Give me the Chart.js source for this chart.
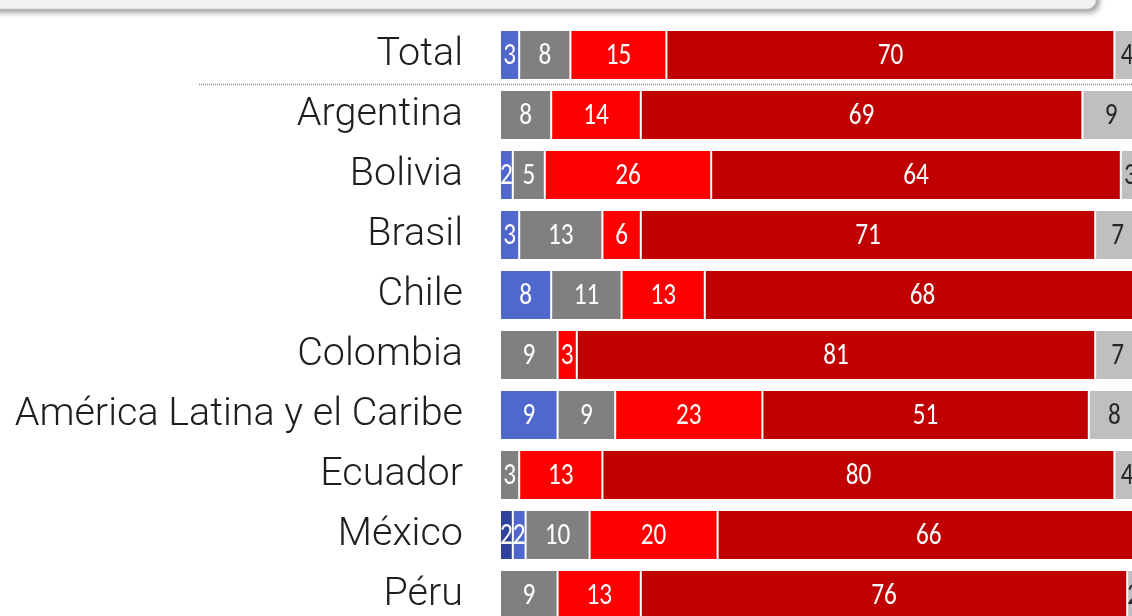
<!DOCTYPE html>
<html>
<head>
<meta charset="utf-8">
<script src="https://cdn.jsdelivr.net/npm/chart.js@4.4.0/dist/chart.umd.min.js"></script>
<style>
  html, body { margin: 0; padding: 0; background: #ffffff; overflow: hidden; width: 1132px; height: 616px; }
  #wrap { position: absolute; left: 0; top: 0; }
  canvas { display: block; }
</style>
</head>
<body>
<div id="wrap"><canvas id="c" width="1140" height="625"></canvas></div>
<script>
const categories = ["Total", "Argentina", "Bolivia", "Brasil", "Chile", "Colombia",
  "América Latina y el Caribe", "Ecuador", "México", "Péru"];

const seriesNames = ["Serie 1", "Serie 2", "Serie 3", "Serie 4", "Serie 5", "Serie 6"];
const darkBlueValues  = [0, 0, 0, 0, 0, 0, 0, 0, 2, 0];
const blueValues      = [3, 0, 2, 3, 8, 0, 9, 0, 2, 0];
const greyValues      = [8, 8, 5, 13, 11, 9, 9, 3, 10, 9];
const redValues       = [15, 14, 26, 6, 13, 3, 23, 13, 20, 13];
const darkRedValues   = [70, 69, 64, 71, 68, 81, 51, 80, 66, 76];
const lightGreyValues = [4, 9, 3, 7, 0, 7, 8, 4, 0, 2];

const seriesValues = [darkBlueValues, blueValues, greyValues, redValues, darkRedValues, lightGreyValues];
const seriesColors = ["#2F429B", "#5068CD", "#808080", "#FF0000", "#C00000", "#BFBFBF"];
const labelColors  = ["#ffffff", "#ffffff", "#ffffff", "#ffffff", "#ffffff", "#262626"];

const topBoxPlugin = {
  id: "topBox",
  beforeDraw(chart) {
    const ctx = chart.ctx;
    ctx.save();
    ctx.shadowColor = "rgba(0,0,0,0.45)";
    ctx.shadowBlur = 6;
    ctx.shadowOffsetX = 3;
    ctx.shadowOffsetY = 3;
    ctx.beginPath();
    ctx.roundRect(-30, -40, 1126, 49, 9);
    ctx.fillStyle = "#F2F2F2";
    ctx.fill();
    ctx.shadowColor = "transparent";
    ctx.lineWidth = 1;
    ctx.strokeStyle = "#D4D4D4";
    ctx.stroke();
    ctx.restore();
  }
};

const separatorPlugin = {
  id: "separator",
  afterDatasetsDraw(chart) {
    const y = chart.scales.y;
    const yy = Math.round((y.getPixelForValue(0) + y.getPixelForValue(1)) / 2) - 0.5;
    const ctx = chart.ctx;
    ctx.save();
    ctx.beginPath();
    ctx.setLineDash([1, 1]);
    ctx.lineWidth = 1.5;
    ctx.strokeStyle = "#8C8C8C";
    ctx.moveTo(199, yy);
    ctx.lineTo(chart.width, yy);
    ctx.stroke();
    ctx.restore();
  }
};

const valueLabelPlugin = {
  id: "valueLabels",
  afterDatasetsDraw(chart) {
    const ctx = chart.ctx;
    chart.data.datasets.forEach((ds, di) => {
      const meta = chart.getDatasetMeta(di);
      meta.data.forEach((el, i) => {
        const v = ds.data[i];
        if (!v) return;
        const p = el.getProps(["x", "y", "base"], true);
        const cx = (p.x + p.base) / 2;
        ctx.save();
        ctx.translate(cx, p.y + 1);
        ctx.scale(0.84, 1);
        ctx.font = "30px Carlito, 'Open Sans', sans-serif";
        ctx.textAlign = "center";
        ctx.textBaseline = "middle";
        ctx.fillStyle = labelColors[di];
        ctx.fillText(String(v), 0, 0);
        ctx.restore();
      });
    });
  }
};

new Chart(document.getElementById("c"), {
  type: "bar",
  data: {
    labels: categories,
    datasets: seriesValues.map((vals, i) => ({
      label: seriesNames[i],
      data: vals,
      backgroundColor: seriesColors[i],
      borderColor: "#ffffff",
      borderWidth: { left: 1, right: 1, top: 0, bottom: 0 },
      borderSkipped: false,
      categoryPercentage: 0.8,
      barPercentage: 1.0
    }))
  },
  options: {
    indexAxis: "y",
    responsive: false,
    animation: false,
    devicePixelRatio: 1,
    layout: { padding: { top: 25, right: 0, bottom: 0, left: 0 } },
    plugins: {
      legend: { display: false },
      tooltip: { enabled: false },
      title: { display: false }
    },
    scales: {
      x: {
        stacked: true,
        display: false,
        min: 0,
        max: 100
      },
      y: {
        stacked: true,
        grid: { display: false, drawTicks: false },
        border: { display: false },
        afterFit(scale) {
          scale.width = 500;
          scale.paddingTop = 0;
          scale.paddingBottom = 0;
        },
        ticks: {
          padding: 37,
          color: "#1e1e1e",
          font: { family: "Roboto, 'Liberation Sans', sans-serif", size: 39.5, weight: 300 }
        }
      }
    }
  },
  plugins: [topBoxPlugin, separatorPlugin, valueLabelPlugin]
});
</script>
</body>
</html>
